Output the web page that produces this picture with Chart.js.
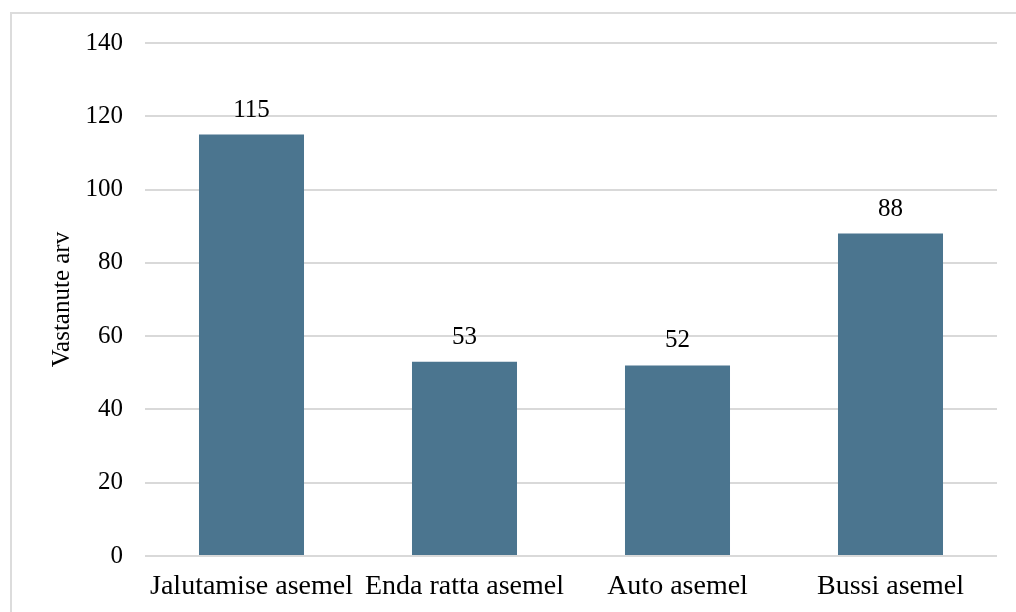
<!DOCTYPE html>
<html>
<head>
<meta charset="utf-8">
<script src="https://cdn.jsdelivr.net/npm/chart.js@4/dist/chart.umd.min.js"></script>
<style>
  html, body { margin: 0; padding: 0; background: #fff; overflow: hidden; }
  #frame { position: absolute; left: 10px; top: 12px; width: 1020px; height: 620px; border: 2px solid #dcdcdc; }
  #chart { position: absolute; left: 0; top: 0; }
</style>
</head>
<body>
<div id="frame"></div>
<canvas id="chart" width="1016" height="612"></canvas>
<script>
// data
const categories = ['Jalutamise asemel', 'Enda ratta asemel', 'Auto asemel', 'Bussi asemel'];
const values = [115, 53, 52, 88];
const yTicks = [0, 20, 40, 60, 80, 100, 120, 140];

const barColor = 'rgb(75, 117, 143)';
const serif = '"Liberation Serif", "Times New Roman", serif';

//draws the number on top of every bar
const valueLabels = {
    id: 'valueLabels',
    afterDatasetsDraw(chart) {
        const ctx = chart.ctx;
        const meta = chart.getDatasetMeta(0);
        ctx.save();
        ctx.font = '25px ' + serif;
        ctx.fillStyle = '#000';
        ctx.textAlign = 'center';
        ctx.textBaseline = 'alphabetic';
        meta.data.forEach((bar, i) => {
            ctx.fillText(String(values[i]), bar.x, bar.y - 18);
        });
        ctx.restore();
    }
};

new Chart(document.querySelector('#chart').getContext('2d'), {
    type: 'bar',
    data: {
        labels: categories,
        datasets: [{
            label: 'Vastanute arv',
            data: values,
            backgroundColor: barColor,
            borderWidth: 0,
            categoryPercentage: 1,
            barPercentage: 0.493
        }]
    },
    options: {
        responsive: false,
        animation: false,
        layout: { padding: { left: 10, right: 19, top: 43, bottom: 0 } },
        plugins: {
            legend: { display: false },
            tooltip: { enabled: false }
        },
        scales: {
            x: {
                grid: { display: false, drawTicks: false },
                border: { display: false },
                ticks: {
                    color: '#000',
                    font: { family: serif, size: 28 },
                    padding: 14,
                    maxRotation: 0,
                    autoSkip: false
                },
                afterFit(scale) { scale.height = 56; }
            },
            y: {
                min: 0,
                max: 140,
                grid: { color: '#d9d9d9', lineWidth: 2, drawTicks: false },
                border: { display: false },
                afterBuildTicks(scale) { scale.ticks = yTicks.map(v => ({ value: v })); },
                ticks: {
                    color: '#000',
                    font: { family: serif, size: 25 },
                    padding: 22
                },
                title: {
                    display: true,
                    text: 'Vastanute arv',
                    color: '#000',
                    font: { family: serif, size: 25 },
                    padding: { top: 37, bottom: 0 }
                },
                afterFit(scale) { scale.width = 135; }
            }
        }
    },
    plugins: [valueLabels]
});
</script>
</body>
</html>
